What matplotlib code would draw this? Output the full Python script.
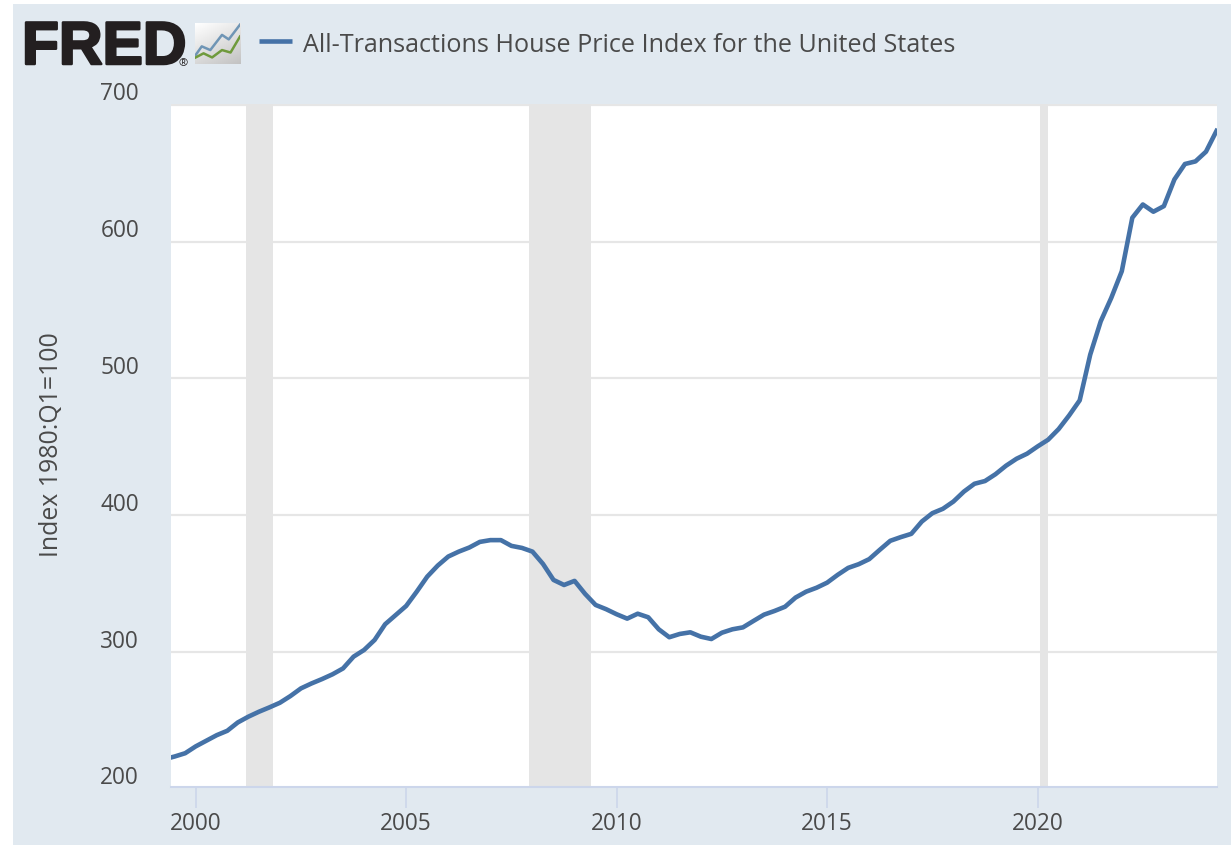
import numpy as np
import matplotlib
matplotlib.use("Agg")
import matplotlib.pyplot as plt
from matplotlib.patches import Rectangle
import matplotlib.patheffects as pe

TITLE = "All-Transactions House Price Index for the United States"
Y_LABEL = "Index 1980:Q1=100"
y_ticks = [200, 300, 400, 500, 600, 700]
x_ticks = [2000, 2005, 2010, 2015, 2020]
recessions = [(2001.2, 2001.83), (2007.92, 2009.39), (2020.05, 2020.24)]
first_quarter = 1999.25
index_values = [
    221.6, 223.6, 226.0, 231.0, 235.1, 239.2, 242.4, 248.5, 252.7, 256.3,
    259.5, 262.9, 267.8, 273.4, 277.0, 280.2, 283.7, 288.0, 296.6, 301.5,
    308.8, 320.3, 327.0, 333.7, 344.1, 355.1, 363.2, 369.8, 373.4, 376.4,
    380.5, 381.8, 381.8, 377.6, 376.1, 373.4, 364.4, 352.7, 349.0, 352.0,
    342.5, 334.4, 331.3, 327.6, 324.4, 328.0, 325.4, 316.6, 310.8, 313.2,
    314.4, 311.2, 309.5, 314.1, 316.6, 318.0, 322.7, 327.3, 330.0, 333.1,
    339.8, 344.1, 347.0, 350.7, 356.4, 361.5, 364.2, 367.9, 374.7, 381.3,
    384.0, 386.4, 395.4, 401.5, 404.7, 410.0, 417.3, 423.0, 425.0, 430.0,
    436.2, 441.3, 445.0, 450.3, 455.2, 463.0, 473.0, 484.0, 517.4, 541.8,
    558.9, 578.4, 617.5, 627.2, 621.9, 626.0, 645.5, 656.8, 658.7, 665.8,
    681.0,
]
quarters = first_quarter + 0.25 * np.arange(len(index_values))

W, H = 1231, 846
BG = "#e1e9f0"
TXT = "#4a4a4a"
LINE = "#4572a7"
FONT = "Open Sans"
plt.rcParams["font.family"] = [FONT, "DejaVu Sans"]

fig = plt.figure(figsize=(W / 100, H / 100), dpi=100, facecolor="white")
fx = lambda x: x / W
fy = lambda y: 1 - y / H
fig.patches.append(Rectangle((fx(13), fy(845)), 1 - fx(13), (845 - 4) / H,
                             transform=fig.transFigure, fc=BG, ec="none", zorder=-5))

ax = fig.add_axes([fx(171), fy(787), (1216.5 - 171) / W, (787 - 104.5) / H], facecolor="white")
ax.set_xlim(1999.413, 2024.25)
ax.set_ylim(201.3, 700.3)
ax.set_yticks(y_ticks[1:])
ax.set_xticks(x_ticks)
ax.grid(axis="y", color="#e6e6e6", lw=1.6, zorder=1)
ax.set_axisbelow(True)
for a, b in recessions:
    ax.axvspan(a, b, color="#e5e5e5", lw=0, zorder=2)
ax.plot(quarters, index_values, color=LINE, lw=3.3, zorder=3, solid_joinstyle="round")
for s in ["top", "left", "right"]:
    ax.spines[s].set_visible(False)
ax.spines["bottom"].set_color("#ccd6eb")
ax.spines["bottom"].set_linewidth(1.5)
ax.tick_params(axis="x", length=15, width=1.2, color="#ccd6eb", labelsize=16.3,
               labelcolor=TXT, pad=3)
ax.tick_params(axis="y", length=0, labelleft=False)
for v in y_ticks:
    y_px = 652 - (v - 300) * 1.3677
    fig.text(fx(139), fy(y_px - 10.5), str(v), ha="right", va="center",
             color=TXT, fontsize=16.3)
fig.text(fx(52), fy(445), Y_LABEL, rotation=90, ha="center", va="center",
         color=TXT, fontsize=17.9)

# header
fig.text(fx(22), fy(64), "FRED", ha="left", va="baseline", color="#231f20",
         fontsize=43.5, fontweight="bold", family="Liberation Sans",
         path_effects=[pe.withStroke(linewidth=1.8, foreground="#231f20")])
fig.text(fx(178.5), fy(66), "®", ha="left", va="baseline", color="#231f20", fontsize=8)
fig.add_artist(plt.Line2D([fx(259), fx(292)], [fy(41), fy(41)], color=LINE, lw=3.3,
                          transform=fig.transFigure, solid_capstyle="butt"))
fig.text(fx(303), fy(46), TITLE, ha="left", va="center", color=TXT, fontsize=18.1)

# logo icon
ic = fig.add_axes([fx(195), fy(64), 45 / W, 41 / H])
ic.set_axis_off()
grad = np.linspace(0, 1, 64)
gx, gy = np.meshgrid(grad, grad)
ic.imshow(1 - 0.24 * (0.35 * gx + 0.65 * gy), cmap="gray", vmin=0, vmax=1, aspect="auto",
          extent=[0, 1, 0, 1], origin="upper")
ic.plot([.015, .15, .34, .6, .75, 1], [.22, .43, .34, .71, .6, .96], color="#6f95b5", lw=1.8)
ic.plot([.015, .19, .38, .6, .79, 1], [.16, .26, .16, .34, .28, .67], color="#6f9a3c", lw=1.8)
ic.set_xlim(0, 1)
ic.set_ylim(0, 1)

fig.savefig("out.png", dpi=100, facecolor="white")
